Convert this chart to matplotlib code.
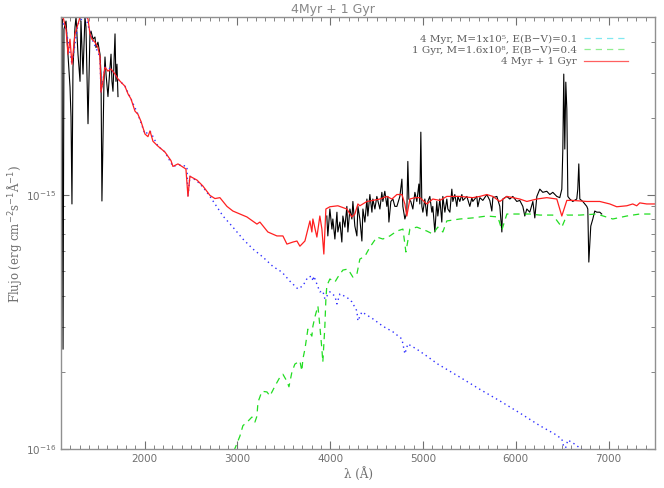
import numpy as np
import matplotlib.pyplot as plt
from matplotlib.ticker import FixedLocator, MultipleLocator, NullFormatter

# flux values are in units of 1e-16 erg cm-2 s-1 A-1
UNIT = 1e-16

# observed spectrum, UV part
obs_uv_wave = [1100, 1111, 1122, 1132, 1154, 1175, 1197, 1208, 1218, 1229, 1251, 1262,
               1283, 1305, 1315, 1337, 1358, 1369, 1391, 1412, 1423, 1445, 1466, 1477,
               1498, 1520, 1531, 1541, 1563, 1574, 1585, 1606, 1628, 1639, 1649, 1660,
               1682, 1692, 1703, 1714]
obs_uv_flux = [40.9, 49.1, 2.46, 44.8, 48.2, 35.7, 26.5, 20.2, 9.18, 31.7, 45.7, 50.0,
               35.7, 27.9, 48.2, 29.8, 50.0, 45.7, 19.0, 42.9, 44.0, 40.9, 41.7, 37.9,
               39.8, 35.7, 29.8, 9.43, 27.9, 34.8, 29.8, 24.3, 31.7, 35.7, 27.9, 25.5,
               42.9, 27.9, 32.6, 24.3]

# observed spectrum, optical part
obs_opt_wave = [3964, 3975, 3997, 4019, 4029, 4051, 4073, 4083, 4105, 4126, 4137, 4159,
                4180, 4191, 4213, 4234, 4245, 4266, 4288, 4299, 4320, 4342, 4353, 4374,
                4396, 4406, 4428, 4450, 4460, 4482, 4503, 4536, 4557, 4568, 4589, 4611,
                4622, 4633, 4654, 4676, 4697, 4719, 4751, 4773, 4783, 4805, 4826, 4837,
                4848, 4869, 4891, 4913, 4934, 4956, 4966, 4977, 4988, 4999, 5020, 5042,
                5053, 5074, 5096, 5106, 5128, 5149, 5160, 5182, 5203, 5214, 5236, 5257,
                5268, 5290, 5311, 5322, 5343, 5365, 5376, 5397, 5419, 5430, 5473, 5505,
                5527, 5537, 5580, 5591, 5613, 5645, 5688, 5720, 5742, 5753, 5796, 5828,
                5850, 5860, 5904, 5936, 5968, 6011, 6043, 6076, 6097, 6119, 6151, 6184,
                6205, 6227, 6259, 6291, 6334, 6367, 6399, 6442, 6474, 6496, 6507, 6517,
                6528, 6539, 6550, 6561, 6582, 6614, 6657, 6668, 6679, 6690, 6722, 6765,
                6776, 6787, 6808, 6830, 6851, 6873, 6905, 6926]
obs_opt_flux = [8.23, 6.87, 8.77, 7.31, 8.01, 6.68, 8.52, 7.12, 7.79, 6.50, 8.23, 7.44,
                8.98, 7.12, 8.77, 8.01, 9.39, 7.51, 6.87, 8.98, 8.01, 6.56, 8.77, 7.79,
                9.60, 8.23, 10.0, 8.52, 9.60, 8.77, 9.83, 8.77, 10.2, 9.39, 10.3, 8.98,
                9.83, 7.79, 9.39, 9.60, 8.98, 8.98, 9.83, 11.5, 8.98, 8.01, 8.52, 13.5,
                9.60, 9.39, 8.77, 10.2, 9.39, 11.0, 9.18, 17.6, 8.98, 8.52, 9.60, 8.23,
                9.39, 9.83, 8.52, 8.98, 7.12, 9.39, 8.23, 9.60, 7.79, 9.83, 8.52, 9.60,
                8.77, 8.52, 10.5, 9.39, 10.0, 8.98, 9.83, 9.39, 10.0, 9.48, 9.83, 8.98,
                9.72, 9.39, 9.83, 8.95, 9.72, 9.48, 10.0, 9.48, 8.61, 9.72, 9.83, 8.98,
                7.12, 9.60, 9.83, 9.60, 9.83, 9.39, 9.48, 8.98, 8.23, 8.77, 8.52, 9.39,
                8.09, 9.83, 10.5, 10.2, 10.3, 10.0, 10.2, 9.83, 9.72, 10.5, 15.1, 29.8,
                15.1, 27.7, 21.7, 9.83, 9.60, 9.39, 9.60, 10.5, 13.2, 9.60, 9.39, 8.98,
                8.77, 5.42, 7.51, 8.01, 8.61, 8.52, 8.52, 8.38]

# 4 Myr model
young_wave = [1100, 1154, 1218, 1283, 1358, 1434, 1520, 1531, 1574, 1639, 1714, 1789,
              1854, 1929, 2005, 2059, 2145, 2220, 2306, 2382, 2457, 2468, 2489, 2565,
              2629, 2705, 2759, 2845, 2952, 3060, 3168, 3276, 3383, 3480, 3566, 3652,
              3706, 3760, 3803, 3814, 3825, 3857, 3889, 3921, 3943, 3997, 4051, 4073,
              4105, 4180, 4234, 4288, 4299, 4342, 4460, 4568, 4676, 4773, 4805, 4837,
              4934, 5042, 5160, 5397, 5613, 5828, 6043, 6259, 6420, 6496, 6528, 6561,
              6636, 6743, 6905]
young_flux = [49.1, 44.8, 32.6, 46.9, 51.2, 40.9, 34.8, 25.3, 31.7, 31.2, 28.5, 26.7,
              23.8, 20.7, 17.3, 17.8, 15.5, 14.7, 12.9, 13.1, 12.9, 9.83, 11.8, 11.3,
              10.7, 9.83, 9.18, 8.23, 7.44, 6.68, 6.10, 5.67, 5.21, 4.95, 4.56, 4.25,
              4.37, 4.73, 4.77, 4.56, 4.77, 4.44, 4.14, 4.17, 3.88, 4.14, 3.98, 3.71,
              4.06, 3.94, 3.78, 3.48, 3.18, 3.45, 3.24, 3.03, 2.88, 2.70, 2.36, 2.58,
              2.46, 2.31, 2.15, 1.91, 1.71, 1.54, 1.38, 1.23, 1.14, 1.09, 0.98, 1.08,
              1.04, 0.97, 0.90]

# 1 Gyr model
old_wave = [2920, 2974, 3028, 3060, 3114, 3157, 3189, 3211, 3222, 3265, 3319, 3351,
            3405, 3459, 3491, 3534, 3556, 3588, 3620, 3674, 3695, 3706, 3728, 3760,
            3803, 3814, 3836, 3868, 3889, 3911, 3921, 3943, 3954, 3964, 3997, 4051,
            4083, 4137, 4191, 4245, 4288, 4320, 4374, 4428, 4503, 4568, 4643, 4719,
            4784, 4816, 4859, 4934, 5042, 5106, 5160, 5214, 5257, 5397, 5537, 5688,
            5807, 5850, 5904, 6043, 6151, 6259, 6399, 6496, 6550, 6690, 6873, 7045,
            7196, 7336, 7497]
old_flux = [0.89, 1.00, 1.12, 1.23, 1.28, 1.33, 1.27, 1.34, 1.52, 1.68, 1.67, 1.61,
            1.76, 1.91, 1.96, 1.84, 1.75, 2.00, 2.15, 2.21, 2.02, 2.25, 2.46, 2.95,
            2.77, 3.03, 3.30, 3.64, 3.03, 2.46, 2.19, 3.03, 3.88, 4.37, 4.65, 4.52,
            4.73, 5.04, 5.09, 4.73, 4.86, 5.57, 5.71, 6.20, 6.80, 6.68, 6.87, 7.18,
            7.31, 5.94, 7.31, 7.44, 7.18, 6.99, 7.44, 7.12, 7.87, 8.01, 8.09, 8.23,
            8.16, 7.25, 8.38, 8.38, 8.38, 8.30, 8.30, 7.44, 8.30, 8.30, 8.38, 8.01,
            8.23, 8.38, 8.38]

# 4 Myr + 1 Gyr
sum_wave = [1100, 1122, 1154, 1175, 1197, 1218, 1251, 1283, 1305, 1358, 1391, 1412,
            1434, 1466, 1498, 1520, 1531, 1552, 1574, 1606, 1639, 1682, 1714, 1746,
            1789, 1822, 1854, 1897, 1929, 1962, 2005, 2037, 2059, 2091, 2145, 2220,
            2285, 2306, 2360, 2403, 2446, 2468, 2489, 2565, 2629, 2705, 2759, 2812,
            2888, 2952, 3028, 3103, 3211, 3243, 3329, 3426, 3491, 3534, 3599, 3642,
            3674, 3728, 3782, 3803, 3814, 3857, 3889, 3911, 3932, 3954, 3997, 4083,
            4180, 4234, 4266, 4299, 4320, 4396, 4460, 4536, 4611, 4665, 4719, 4773,
            4805, 4826, 4859, 4913, 4966, 5042, 5106, 5182, 5257, 5397, 5537, 5613,
            5688, 5753, 5828, 5904, 6043, 6119, 6227, 6334, 6442, 6496, 6550, 6614,
            6765, 6905, 7013, 7088, 7196, 7260, 7303, 7336, 7411, 7497]
sum_flux = [49.1, 50.0, 44.8, 35.7, 40.9, 32.6, 42.9, 46.9, 50.0, 51.2, 49.1, 42.9,
            40.9, 39.8, 37.9, 34.8, 25.3, 27.9, 31.7, 30.6, 31.2, 29.8, 28.5, 27.7,
            26.7, 24.9, 23.8, 21.3, 20.7, 19.4, 17.3, 16.9, 17.8, 16.2, 15.5, 14.7,
            13.6, 12.9, 13.2, 12.9, 12.6, 9.83, 11.8, 11.4, 10.8, 9.92, 9.64, 9.72,
            8.98, 8.61, 8.38, 8.16, 7.65, 7.79, 7.12, 6.87, 6.87, 6.38, 6.50, 6.56,
            6.26, 6.56, 7.87, 7.12, 8.01, 6.80, 8.23, 7.31, 5.83, 8.77, 8.95, 9.03,
            8.77, 8.16, 8.38, 9.18, 9.03, 9.39, 9.48, 9.60, 9.83, 9.60, 10.0, 10.0,
            9.18, 8.23, 9.60, 9.72, 9.72, 9.18, 9.60, 9.48, 9.83, 9.83, 9.72, 9.83,
            10.0, 9.83, 9.39, 9.83, 9.60, 9.39, 9.60, 9.72, 9.60, 8.23, 9.48, 9.48,
            9.39, 9.39, 9.18, 8.95, 9.03, 9.18, 9.03, 9.27, 9.18, 9.18]

legend_labels = ['4 Myr, M=1x10⁵, E(B−V)=0.1',
                 '1 Gyr, M=1.6x10⁸, E(B−V)=0.4',
                 '4 Myr + 1 Gyr']

gray = '#707070'
serif = 'DejaVu Serif'

fig = plt.figure(figsize=(6.64, 4.89), dpi=100)
ax = fig.add_axes([61 / 664, 1 - 449.5 / 489, 594 / 664, 431.5 / 489])

ax.plot(obs_uv_wave, np.array(obs_uv_flux) * UNIT, color='black', lw=0.8)
ax.plot(obs_opt_wave, np.array(obs_opt_flux) * UNIT, color='black', lw=0.8)
ax.plot(young_wave, np.array(young_flux) * UNIT, color='#3030ff', lw=1.0,
        linestyle=(0, (1, 2.5)))
ax.plot(old_wave, np.array(old_flux) * UNIT, color='#22dd22', lw=0.9,
        linestyle=(0, (5, 4)))
ax.plot(sum_wave, np.array(sum_flux) * UNIT, color='#ff2020', lw=0.9)

ax.set_yscale('log')
ax.set_xlim(1100, 7500)
ax.set_ylim(1e-16, 5e-15)

ax.xaxis.set_major_locator(MultipleLocator(1000))
ax.xaxis.set_minor_locator(MultipleLocator(100))
ax.yaxis.set_major_locator(FixedLocator([1e-16, 1e-15]))
ax.yaxis.set_minor_locator(FixedLocator([k * 1e-16 for k in range(2, 10)] +
                                        [k * 1e-15 for k in range(2, 6)]))
ax.yaxis.set_minor_formatter(NullFormatter())
ax.set_yticklabels(['10$^{-16}$', '10$^{-15}$'])

ax.tick_params(which='both', direction='in', top=True, right=True,
               color=gray, labelcolor=gray, labelsize=7.5)
ax.tick_params(which='major', length=6, width=0.8)
ax.tick_params(which='minor', length=3, width=0.6)
for s in ax.spines.values():
    s.set_color('#909090')
    s.set_linewidth(1.0)

ax.set_xlabel('λ (Å)', family=serif, color=gray, fontsize=8.5, labelpad=2)
ax.set_ylabel('Flujo (erg cm$^{-2}$s$^{-1}$Å$^{-1}$)', family=serif,
              color=gray, fontsize=8.5)
ax.yaxis.set_label_coords(-0.062, 0.5)
fig.text(333 / 664, 1 - 9 / 489, '4Myr + 1 Gyr', ha='center', va='center',
         color='#888888', fontsize=9)

# legend: text right aligned, sample line to the right
leg_rows = [0.951, 0.925, 0.899]
leg_styles = [dict(color='#80e8f0', linestyle=(0, (5, 4))),
              dict(color='#90ee90', linestyle=(0, (5, 4))),
              dict(color='#ff6060', linestyle='-')]
for row, lab, st in zip(leg_rows, legend_labels, leg_styles):
    ax.text(0.869, row, lab, transform=ax.transAxes, ha='right', va='center',
            family=serif, fontsize=7.5, color='#606060')
    ax.plot([0.880, 0.955], [row, row], transform=ax.transAxes, lw=0.9, **st)

fig.savefig('out.png', dpi=100)
